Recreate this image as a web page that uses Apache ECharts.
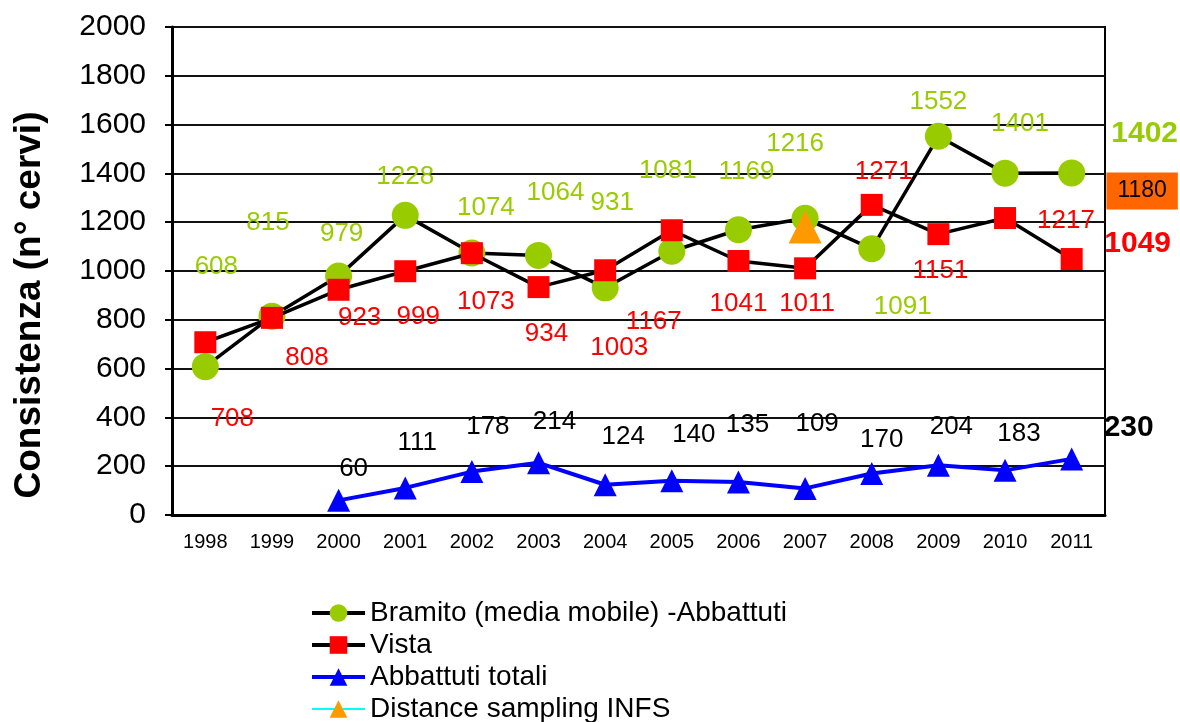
<!DOCTYPE html>
<html>
<head>
<meta charset="utf-8">
<script src="https://cdn.jsdelivr.net/npm/echarts@6/dist/echarts.min.js"></script>
<style>
html,body{margin:0;padding:0;background:#fff;}
#chart{width:1180px;height:722px;}
</style>
</head>
<body>
<div id="chart"></div>
<script>
// dati
var anni = ['1998','1999','2000','2001','2002','2003','2004','2005','2006','2007','2008','2009','2010','2011'];
var bramito = [608,815,979,1228,1074,1064,931,1081,1169,1216,1091,1552,1401,1402];
var vista = [708,808,923,999,1073,934,1003,1167,1041,1011,1271,1151,1217,1049];
var abbattuti = [null,null,60,111,178,214,124,140,135,109,170,204,183,230];
var distance = [null,null,null,null,null,null,null,null,null,1180,null,null,null,null];

// spostamento delle etichette (px) rispetto al punto
var offBramito = [[11,-100],[-4,-93],[3,-42],[0,-39],[14,-45],[17,-63],[7,-85],[-4,-80],[8,-58],[-10,-74],[31,58],[0,-34],[15,-49],[73,-39]];
var offVista = [[27,77],[35,40],[21,28],[13,46],[14,49],[8,47],[14,78],[-18,92],[0,43],[2,36],[12,-33],[2,37],[61,3],[66,-15]];
var offAbbattuti = [[0,0],[0,0],[15,-32],[12,-45],[16,-45],[16,-41],[18,-48],[22,-46],[9,-57],[12,-65],[10,-34],[13,-38],[14,-37],[57,-31]];
var offDistance = [337,-36];

var FONT = 'Liberation Sans, Arial, sans-serif';

function items(values, offs) {
    var out = [];
    for (var i = 0; i < values.length; i++) {
        if (values[i] == null) { out.push(null); continue; }
        var lab = { offset: offs[i] };
        if (i == values.length - 1) {
            lab.fontWeight = 'bold';
            lab.fontSize = 30;
        }
        out.push({ value: values[i], label: lab });
    }
    return out;
}

function baseLabel(color) {
    return {
        show: true,
        position: 'inside',
        align: 'center',
        verticalAlign: 'middle',
        color: color,
        fontFamily: FONT,
        fontSize: 26,
        textBorderWidth: 0
    };
}

var distItems = [];
for (var i = 0; i < distance.length; i++) {
    if (distance[i] == null) distItems.push(null);
    else distItems.push({ value: distance[i], label: { offset: offDistance } });
}

var option = {
    animation: false,
    backgroundColor: '#fff',
    textStyle: { fontFamily: FONT },
    grid: {
        left: 172, right: 75, top: 27, bottom: 207,
        show: true, borderColor: '#000', borderWidth: 2
    },
    legend: {
        orient: 'vertical',
        left: 310,
        top: 599,
        height: 200,
        padding: 0,
        itemWidth: 53,
        itemHeight: 22,
        itemGap: 4,
        textStyle: { fontFamily: FONT, fontSize: 28, color: '#000' },
        data: [
            { name: 'Bramito (media mobile) -Abbattuti', lineStyle: { width: 4 } },
            { name: 'Vista', lineStyle: { width: 4 } },
            { name: 'Abbattuti totali', lineStyle: { width: 4 } },
            { name: 'Distance sampling INFS', lineStyle: { width: 2 } }
        ]
    },
    xAxis: {
        type: 'category',
        data: anni,
        axisLine: { lineStyle: { color: '#000', width: 3 } },
        axisTick: { length: 7, lineStyle: { color: '#000', width: 2 } },
        axisLabel: { color: '#000', fontSize: 20, margin: 17, fontFamily: FONT }
    },
    yAxis: {
        type: 'value',
        min: 0, max: 2000, interval: 200,
        name: 'Consistenza (n° cervi)',
        nameLocation: 'middle',
        nameRotate: 90,
        nameGap: 124,
        nameTextStyle: { color: '#000', fontSize: 37, fontWeight: 'bold', fontFamily: FONT, padding: [0, 68, 0, 0] },
        axisLine: { show: true, lineStyle: { color: '#000', width: 3 } },
        axisTick: { show: true, length: 7, lineStyle: { color: '#000', width: 2 } },
        axisLabel: {
            color: '#000', fontSize: 30, margin: 26, fontFamily: FONT,
            formatter: function (v) { return String(v); }
        },
        splitLine: { lineStyle: { color: '#111', width: 2 } }
    },
    series: [
        {
            name: 'Bramito (media mobile) -Abbattuti',
            type: 'line',
            data: items(bramito, offBramito),
            symbol: 'circle',
            symbolSize: 27,
            lineStyle: { color: '#000', width: 3.5 },
            itemStyle: { color: '#99CC00' },
            label: baseLabel('#99CC00'),
            z: 2
        },
        {
            name: 'Vista',
            type: 'line',
            data: items(vista, offVista),
            symbol: 'rect',
            symbolSize: 22,
            lineStyle: { color: '#000', width: 3.5 },
            itemStyle: { color: '#FF0000' },
            label: baseLabel('#FF0000'),
            z: 3
        },
        {
            name: 'Abbattuti totali',
            type: 'line',
            data: items(abbattuti, offAbbattuti),
            symbol: 'triangle',
            symbolSize: 23,
            lineStyle: { color: '#0000FF', width: 4 },
            itemStyle: { color: '#0000FF' },
            label: baseLabel('#000'),
            z: 4
        },
        {
            name: 'Distance sampling INFS',
            type: 'line',
            data: distItems,
            symbol: 'triangle',
            symbolSize: 33,
            lineStyle: { color: '#00FFFF', width: 2 },
            itemStyle: { color: '#FF9900' },
            label: {
                show: true,
                position: 'inside',
                align: 'center',
                verticalAlign: 'middle',
                color: '#000',
                fontFamily: FONT,
                fontSize: 23,
                backgroundColor: '#FF6600',
                padding: [7, 11, 7, 11],
                textBorderWidth: 0
            },
            z: 5
        }
    ]
};

var myChart = echarts.init(document.getElementById('chart'));
myChart.setOption(option);
</script>
</body>
</html>
